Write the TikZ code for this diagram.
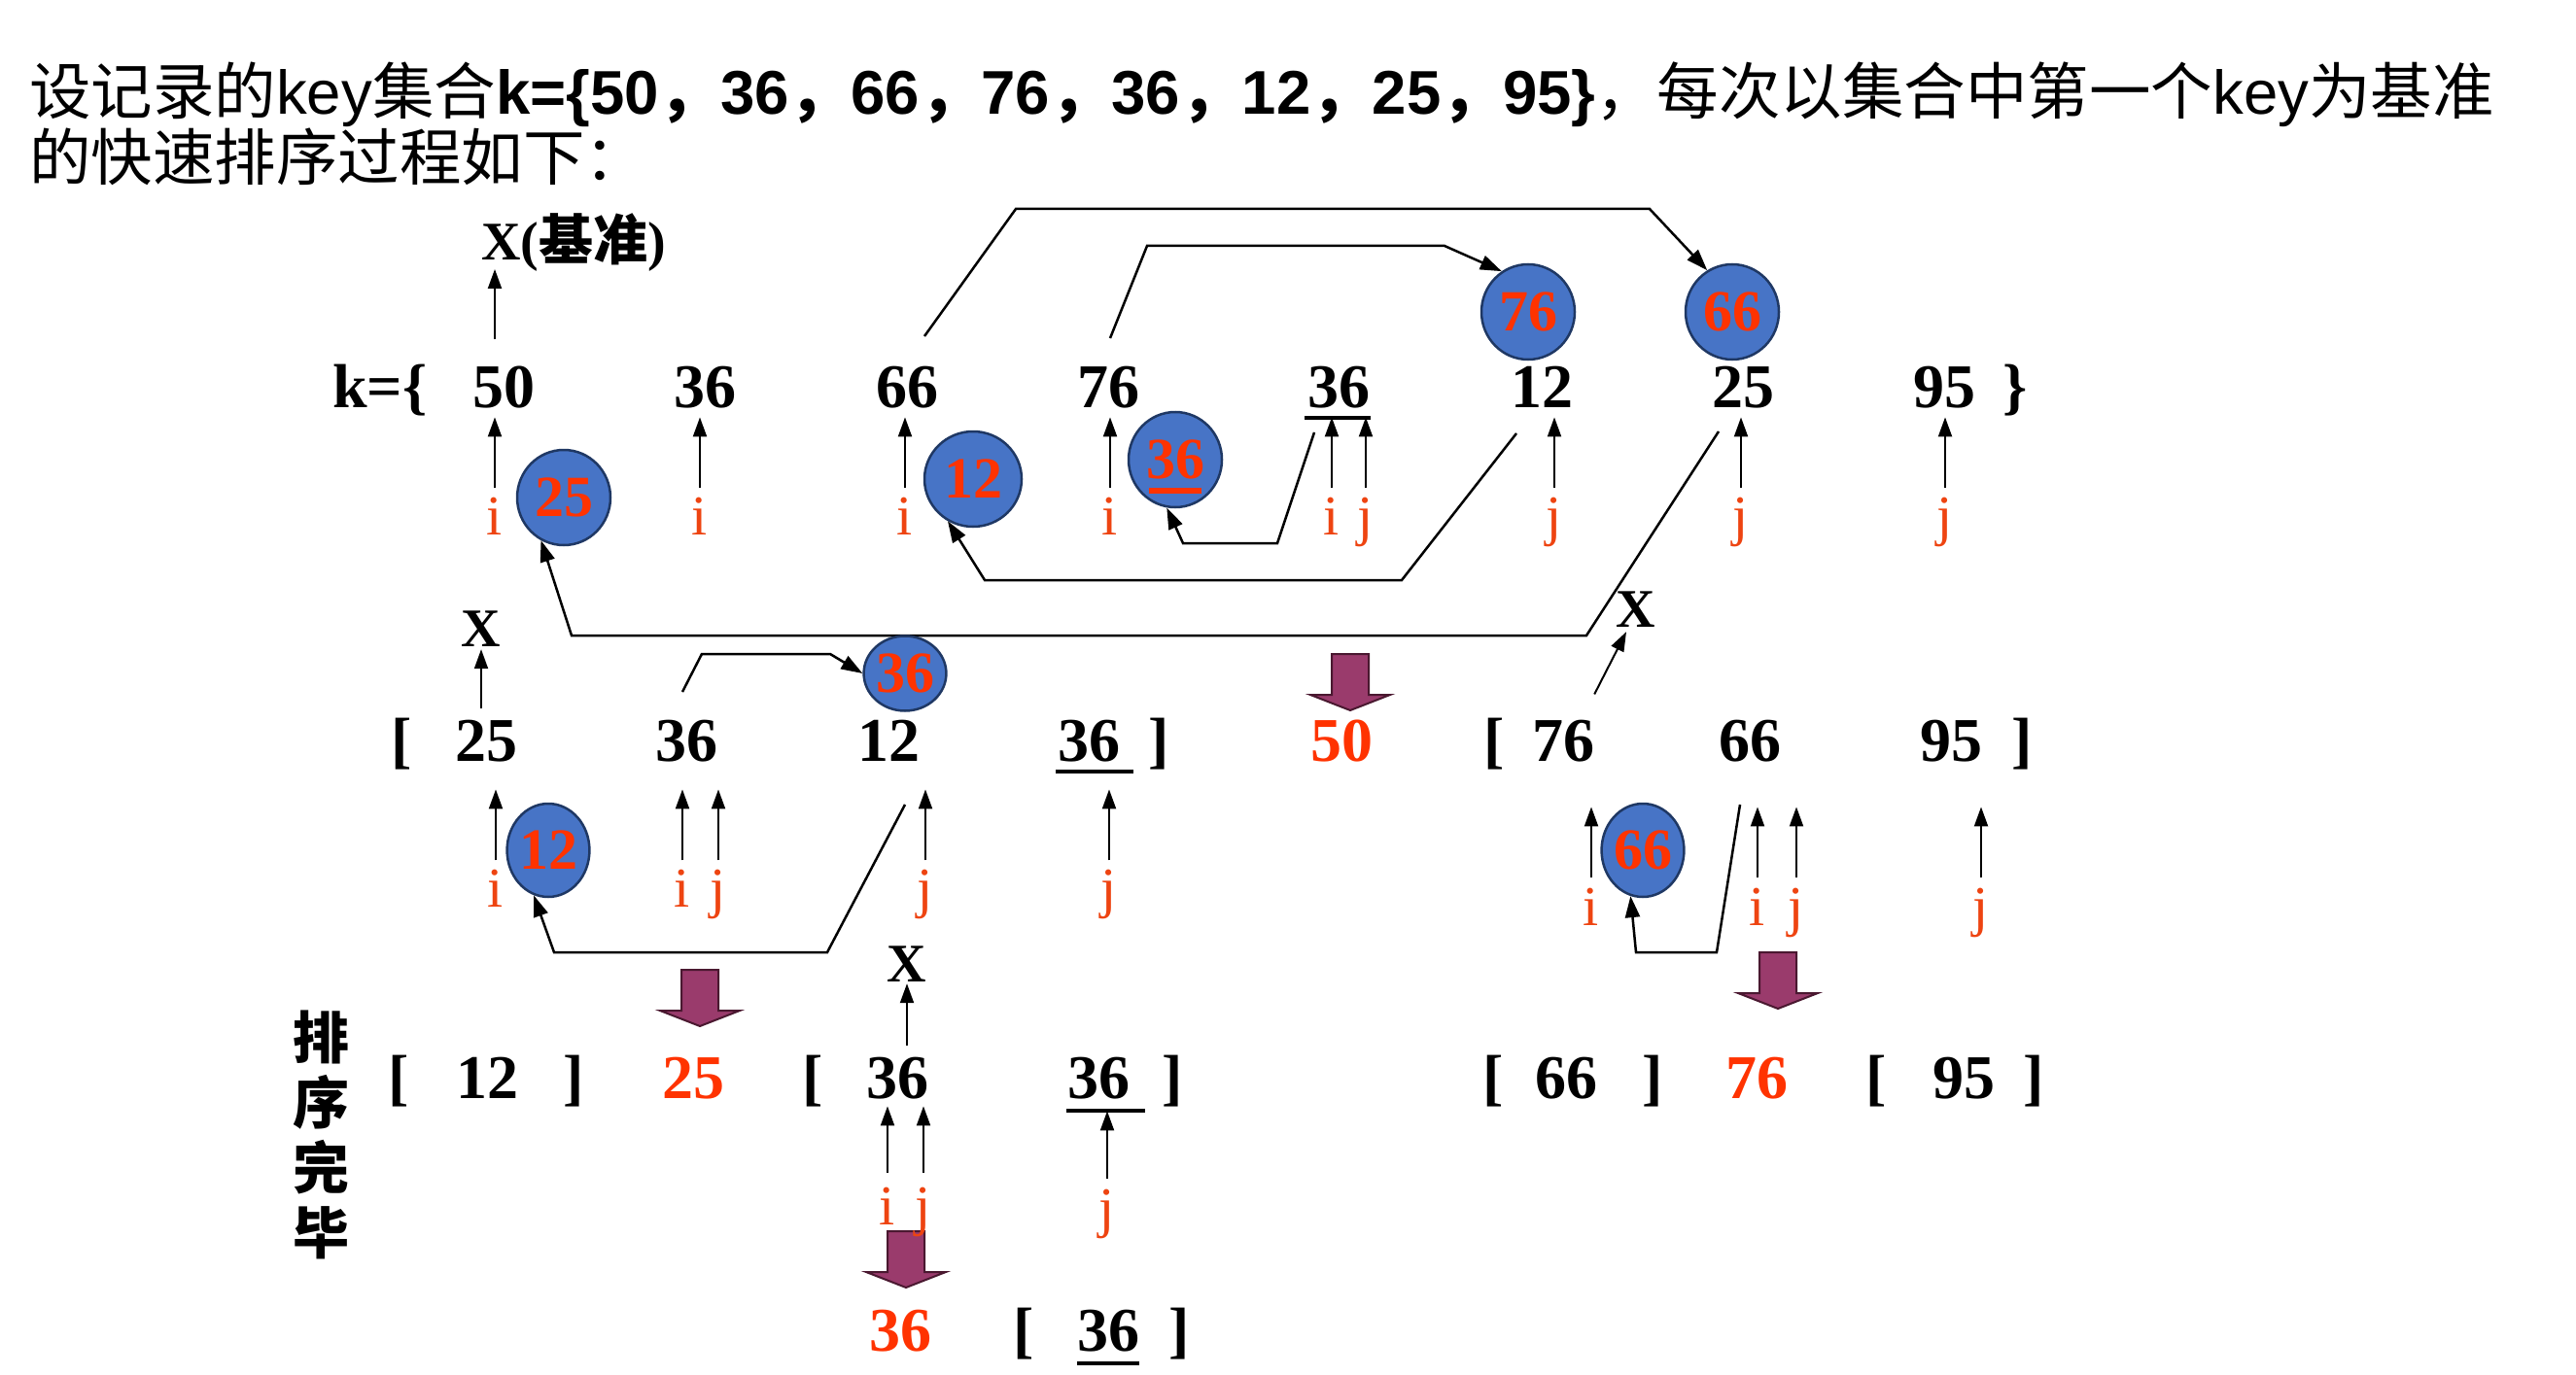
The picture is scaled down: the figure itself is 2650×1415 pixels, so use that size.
\documentclass[tikz,border=0pt]{standalone}
\usepackage{fontspec}
\setmainfont{Liberation Serif}
\newfontfamily\cjk{Noto Sans CJK SC}
\newfontfamily\lsans{Liberation Sans}
\usetikzlibrary{arrows.meta,shapes.geometric}
\definecolor{cfill}{HTML}{4774C6}
\definecolor{cline}{HTML}{1F3864}
\definecolor{numred}{HTML}{FF3300}
\definecolor{lblred}{HTML}{EE4411}
\definecolor{barfill}{HTML}{9A3B6C}
\definecolor{barline}{HTML}{4A1830}
\begin{document}
\begin{tikzpicture}[x=1pt,y=-1pt,
  num/.style={inner sep=0pt, anchor=base, font=\fontsize{64}{64}\selectfont\bfseries},
  rnum/.style={num, text=numred},
  lbl/.style={inner sep=0pt, anchor=base, text=lblred, font=\fontsize{58}{58}\selectfont},
  xlbl/.style={inner sep=0pt, anchor=base, font=\fontsize{56}{56}\selectfont\bfseries},
  circ/.style={ellipse, draw=cline, fill=cfill, line width=2.5pt, inner sep=0pt, text=numred, font=\fontsize{60}{60}\selectfont\bfseries},
  ptr/.style={line width=2pt, -{Triangle[length=20pt,width=14pt]}},
  conn/.style={line width=2.5pt, line join=miter, -{Triangle[length=22pt,width=15pt]}},
  uline/.style={line width=4.5pt},
  blockdown/.pic={\filldraw[fill=barfill, draw=barline, line width=2pt] (-19,0) -- (19,0) -- (19,42) -- (41,42) -- (0,58) -- (-41,42) -- (-19,42) -- cycle;}
]
\fill[white] (0,0) rectangle (2650,1415);
\useasboundingbox (0,0) rectangle (2650,1415);

% title
\node[anchor=base west, inner sep=0pt, font=\fontsize{63.5}{63.5}\selectfont\lsans] (title1) at (30,118)
 {{\cjk 设记录的}key{\cjk 集合}\textbf{k=\{50{\cjk ，}36{\cjk ，}66{\cjk ，}76{\cjk ，}36{\cjk ，}12{\cjk ，}25{\cjk ，}95\}}{\cjk ，每次以集合中第一个}key{\cjk 为基准}};
\node[anchor=base west, inner sep=0pt, font=\fontsize{63.5}{63.5}\selectfont\lsans] (title2) at (30,186)
 {{\cjk 的快速排序过程如下：}};

% ---------- row 1 ----------
\node[xlbl, anchor=base west] (xj) at (495,268) {X({\cjk 基准})};
\node[num] (kk) at (391,419) {k=\{};
\node[num] (a1) at (518,419) {50};
\node[num] (a2) at (725,419) {36};
\node[num] (a3) at (933,419) {66};
\node[num] (a4) at (1140,419) {76};
\node[num] (a5) at (1377,419) {36};
\node[num] (a6) at (1586,419) {12};
\node[num] (a7) at (1793,419) {25};
\node[num] (a8) at (2000,419) {95};
\node[num] (kr) at (2073,419) {\}};
\draw[uline] (1342,430) -- (1410,430);

\node[lbl] (i1) at (509,550) {i};
\node[lbl] (i2) at (720,550) {i};
\node[lbl] (i3) at (931,550) {i};
\node[lbl] (i4) at (1142,550) {i};
\node[lbl] (i5) at (1370,550) {i};
\node[lbl] (j5) at (1405,550) {j};
\node[lbl] (j6) at (1599,550) {j};
\node[lbl] (j7) at (1791,550) {j};
\node[lbl] (j8) at (2001,550) {j};
\foreach \n in {i1,i2,i3,i4,i5,j5,j6,j7,j8}
  \draw[ptr] ([yshift=9pt]\n.north) -- ++(0,-73);
\draw[ptr] ([yshift=27pt]a1.north -| i1.north) -- ([yshift=-9pt]xj.base west -| i1.north);

\node[circ, minimum width=96pt, minimum height=98pt] (c25) at (580,512) {25};
\node[circ, minimum width=100pt, minimum height=98pt] (c12) at (1001,493) {12};
\node[circ, minimum width=96pt, minimum height=98pt] (c36) at (1209,473) {36};
\draw[numred, line width=6pt] ([xshift=-27pt,yshift=-32pt]c36.center) -- ([xshift=27pt,yshift=-32pt]c36.center);
\node[circ, minimum width=96pt, minimum height=98pt] (c76) at (1572,321) {76};
\node[circ, minimum width=96pt, minimum height=98pt] (c66) at (1782,321) {66};

\coordinate (sA) at (951,346);
\coordinate (sB) at (1142,348);
\coordinate (sC) at (1352,445);
\coordinate (sD) at (1560,446);
\coordinate (sE) at (1768,444);
\draw[conn] (sA) -- (1045,215) -- (1697,215) -- (c66.121);
\draw[conn] (sB) -- (1180,253) -- (1486,253) -- (c76.123);
\draw[conn] (sC) -- (1314,559) -- (1217,559) -- (c36.260);
\draw[conn] (sD) -- (1442,597) -- (1013,597) -- (c12.239);
\draw[conn] (sE) -- (1632,654) -- (588,654) -- (c25.242);

% ---------- row 2 ----------
\node[num] (lb2a) at (413,783) {[};
\node[num] (m1) at (500,783) {25};
\node[num] (m2) at (706,783) {36};
\node[num] (m3) at (914,783) {12};
\node[num] (m4) at (1120,783) {36};
\node[num] (rb2a) at (1192,783) {]};
\node[rnum] (m5) at (1380,783) {50};
\node[num] (lb2b) at (1537,783) {[};
\node[num] (m6) at (1608,783) {76};
\node[num] (m7) at (1800,783) {66};
\node[num] (m8) at (2007,783) {95};
\node[num] (rb2b) at (2080,783) {]};
\draw[uline] (1086,794) -- (1166,794);

\node[xlbl] (x2a) at (495,665) {X};
\draw[ptr] ([yshift=11pt]m1.north -| x2a.south) -- ([yshift=-3pt]x2a.south);
\node[xlbl] (x2b) at (1683,645) {X};
\draw[ptr] ([yshift=26pt]m6.north east) -- ([xshift=-10pt,yshift=-5pt]x2b.south);

\node[circ, minimum width=76pt, minimum height=77pt] (c2a) at (931,693) {36};
\coordinate (sF) at (702,712);
\draw[conn] (sF) -- (722,673) -- (854,673) -- (c2a.180);

\node[lbl] (p1) at (510,933) {i};
\node[lbl] (p2) at (702,933) {i};
\node[lbl] (p3) at (739,933) {j};
\node[lbl] (p4) at (952,933) {j};
\node[lbl] (p5) at (1141,933) {j};
\foreach \n in {p1,p2,p3,p4,p5}
  \draw[ptr] ([yshift=9pt]\n.north) -- ++(0,-73);
\node[circ, minimum width=66pt, minimum height=96pt] (c2b) at (564,875) {12};
\coordinate (sG) at (931,828);
\draw[conn] (sG) -- (851,980) -- (570,980) -- (c2b.252);

\node[lbl] (q1) at (1637,952) {i};
\node[lbl] (q2) at (1808,952) {i};
\node[lbl] (q3) at (1848,952) {j};
\node[lbl] (q4) at (2038,952) {j};
\foreach \n in {q1,q2,q3,q4}
  \draw[ptr] ([yshift=10pt]\n.north) -- ++(0,-73);
\node[circ, minimum width=70pt, minimum height=96pt] (c2c) at (1690,875) {66};
\coordinate (sH) at (1790,828);
\draw[conn] (sH) -- (1766,980) -- (1683,980) -- (c2c.255);

% block arrows
\pic at (1389,673) {blockdown};
\pic at (720,998) {blockdown};
\pic at (1829,980) {blockdown};
\pic at (932,1267) {blockdown};

% ---------- row 3 ----------
\node[num] (lb3a) at (410,1130) {[};
\node[num] (r1) at (501,1130) {12};
\node[num] (rb3a) at (590,1130) {]};
\node[rnum] (r2) at (713,1130) {25};
\node[num] (lb3b) at (836,1130) {[};
\node[num] (r3) at (923,1130) {36};
\node[num] (r4) at (1130,1130) {36};
\node[num] (rb3b) at (1206,1130) {]};
\draw[uline] (1097,1143) -- (1178,1143);
\node[num] (lb3c) at (1536,1130) {[};
\node[num] (r5) at (1611,1130) {66};
\node[num] (rb3c) at (1700,1130) {]};
\node[rnum] (r6) at (1807,1130) {76};
\node[num] (lb3d) at (1930,1130) {[};
\node[num] (r7) at (2020,1130) {95};
\node[num] (rb3d) at (2092,1130) {]};

\node[xlbl] (x3) at (933,1010) {X};
\draw[ptr] ([yshift=11pt]r3.north -| x3.south) -- ([yshift=-2pt]x3.south);

\node[lbl] (t1) at (913,1260) {i};
\node[lbl] (t2) at (950,1260) {j};
\node[lbl] (t3) at (1139,1262) {j};
\foreach \n in {t1,t2}
  \draw[ptr] ([yshift=14pt]\n.north) -- ++(0,-69);
\draw[ptr] ([yshift=10pt]t3.north) -- ++(0,-70);

\node[font=\fontsize{58}{67}\selectfont\cjk\bfseries, align=center, inner sep=0pt] (done) at (330,1168) {排\\序\\完\\毕};

% ---------- row 4 ----------
\node[rnum] (u1) at (926,1390) {36};
\node[num] (lb4) at (1053,1390) {[};
\node[num] (u2) at (1140,1390) {36};
\node[num] (rb4) at (1213,1390) {]};
\draw[uline] (1108,1403) -- (1172,1403);
\end{tikzpicture}
\end{document}
